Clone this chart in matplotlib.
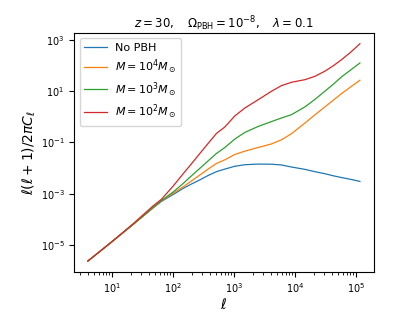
import numpy as np
import matplotlib
matplotlib.use("Agg")
import matplotlib.pyplot as plt

# multipoles
ell = [4, 10, 22, 47, 64, 100, 146, 200, 274, 374, 513, 703, 1025, 1500,
       2470, 4090, 5970, 8710, 14400, 21000, 30600, 42000, 57500, 81300, 115000]

# log10 of l(l+1)/2pi C_l for each curve
log_nopbh = [-5.62, -4.86, -4.20, -3.55, -3.30, -3.03, -2.79, -2.62, -2.46, -2.29,
             -2.14, -2.04, -1.93, -1.87, -1.845, -1.85, -1.88, -1.96, -2.05, -2.14,
             -2.22, -2.30, -2.37, -2.44, -2.52]
log_m1e4 = [-5.62, -4.86, -4.20, -3.54, -3.28, -2.98, -2.73, -2.50, -2.27, -2.04,
            -1.82, -1.68, -1.47, -1.34, -1.20, -1.06, -0.90, -0.66, -0.25, 0.07,
            0.38, 0.64, 0.90, 1.16, 1.42]
log_m1e3 = [-5.62, -4.86, -4.19, -3.53, -3.27, -2.93, -2.60, -2.30, -2.01, -1.72,
            -1.43, -1.20, -0.87, -0.61, -0.38, -0.19, -0.05, 0.08, 0.38, 0.67,
            0.99, 1.26, 1.55, 1.82, 2.09]
log_m1e2 = [-5.62, -4.86, -4.17, -3.47, -3.22, -2.70, -2.22, -1.83, -1.43, -1.04,
            -0.65, -0.40, 0.03, 0.34, 0.66, 0.99, 1.21, 1.34, 1.44, 1.57,
            1.77, 1.98, 2.22, 2.51, 2.84]

labels = ["No PBH", r"$M=10^4M_\odot$", r"$M=10^3M_\odot$", r"$M=10^2M_\odot$"]
colors = ["tab:blue", "tab:orange", "tab:green", "tab:red"]

fig = plt.figure(figsize=(4.15, 3.32), dpi=100)
ax = fig.add_axes([0.179, 0.181, 0.721, 0.72])

for vals, lab, c in zip([log_nopbh, log_m1e4, log_m1e3, log_m1e2], labels, colors):
    ax.plot(ell, 10 ** np.array(vals), color=c, lw=0.9, label=lab)

ax.set_xscale("log")
ax.set_yscale("log")
ax.set_yticks([1e-5, 1e-3, 1e-1, 1e1, 1e3])
ax.tick_params(labelsize=7)
ax.set_xlabel(r"$\ell$", fontsize=10, labelpad=1)
ax.set_ylabel(r"$\ell(\ell+1)/2\pi C_\ell$", fontsize=10, labelpad=2)
ax.set_title(r"$z=30, \quad \Omega_{\rm PBH}=10^{-8}, \quad \lambda=0.1$", fontsize=8.5, pad=1)
ax.legend(loc="upper left", fontsize=8, labelspacing=0.4)

fig.savefig("out.png", dpi=100)
